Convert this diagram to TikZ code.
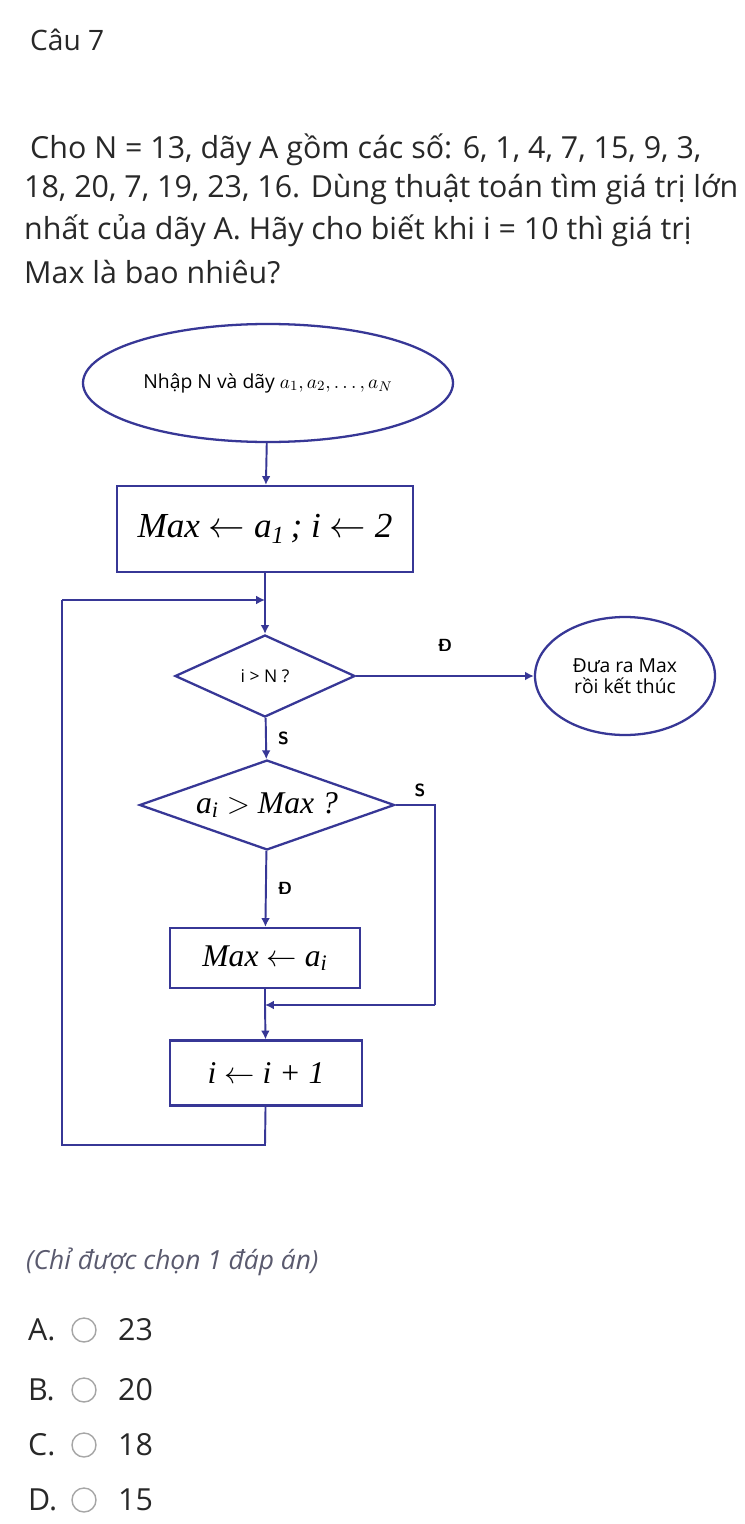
\documentclass[tikz,border=0pt]{standalone}
\usepackage{fontspec}
\setmainfont{Open Sans}
\newfontfamily\timesf{Liberation Serif}
\usetikzlibrary{shapes.geometric,positioning,arrows.meta}
\definecolor{flow}{RGB}{55,55,150}
\definecolor{qtext}{RGB}{40,40,40}
\definecolor{note}{RGB}{90,90,110}
\tikzset{
  flowline/.style={draw=flow, line width=1.1pt},
  flowarrow/.style={flowline, -{Latex[length=5pt,width=5pt]}},
  startstop/.style={ellipse, draw=flow, line width=1.3pt, inner sep=0pt},
  procbox/.style={rectangle, draw=flow, line width=1.3pt, inner sep=0pt},
  decide/.style={diamond, draw=flow, line width=1.3pt, inner sep=0pt, aspect=2.2},
  qline/.style={anchor=west, text=qtext, font=\fontsize{17.3}{20}\selectfont},
  lbl/.style={font=\sffamily\bfseries\fontsize{10}{12}\selectfont, text=black}
}
\begin{document}
\begin{tikzpicture}[x=0.02cm,y=-0.02cm]
  \useasboundingbox[fill=white] (0,0) rectangle (744,1524);
  % heading and question
  \node[qline, font=\fontsize{16}{20}\selectfont] (title) at (24,40) {Câu 7};
  \node[qline] (q1) at (24,150) {Cho N = 13, dãy A gồm các số: 6, 1, 4, 7, 15, 9, 3,};
  \node[qline] (q2) at (18,190) {18, 20, 7, 19, 23, 16. Dùng thuật toán tìm giá trị lớn};
  \node[qline] (q3) at (18,231) {nhất của dãy A. Hãy cho biết khi i = 10 thì giá trị};
  \node[qline] (q4) at (18,272) {Max là bao nhiêu?};
  % flowchart
  \node[startstop, minimum width=370*0.02cm, minimum height=118*0.02cm] (input) at (268,383)
    {\fontsize{11}{13}\selectfont Nhập N và dãy $a_1, a_2, \dots, a_N$};
  \node[procbox, minimum width=296*0.02cm, minimum height=86*0.02cm] (init) at (265,529)
    {\timesf\itshape\fontsize{20}{24}\selectfont Max $\leftarrow$ a\textsubscript{1}\,; i $\leftarrow$ 2};
  \coordinate (join1) at (265,600);
  \node[decide, minimum width=180*0.02cm, minimum height=82*0.02cm] (test1) at (265,676)
    {\fontsize{10}{12}\selectfont i > N ?};
  \node[startstop, minimum width=180*0.02cm, minimum height=118*0.02cm] (output) at (625,676)
    {\fontsize{11}{13}\selectfont\shortstack{Đưa ra Max\\rồi kết thúc}};
  \node[decide, minimum width=255*0.02cm, minimum height=80*0.02cm] (test2) at (267,805)
    {\timesf\itshape\fontsize{18}{22}\selectfont a\textsubscript{i} $>$ Max ?};
  \node[procbox, minimum width=190*0.02cm, minimum height=60*0.02cm] (update) at (265,958)
    {\timesf\itshape\fontsize{18}{22}\selectfont Max $\leftarrow$ a\textsubscript{i}};
  \coordinate (join2) at (265,1005);
  \node[procbox, minimum width=192*0.02cm, minimum height=65*0.02cm] (step) at (266,1073)
    {\timesf\itshape\fontsize{18}{22}\selectfont i $\leftarrow$ i + 1};
  \coordinate (right2) at (435,820);
  \coordinate (low) at (265,1145);
  \coordinate (lowleft) at (62,1145);
  \coordinate (upleft) at (62,600);
  \draw[flowarrow] (input) -- (init);
  \draw[flowline] (init) -- (join1);
  \draw[flowarrow] (join1) -- (test1);
  \draw[flowarrow] (test1) -- node[lbl, above=10pt] {Đ} (output);
  \draw[flowarrow] (test1) -- node[lbl, right=3pt] {S} (test2);
  \draw[flowarrow] (test2) -- node[lbl, right=3pt] {Đ} (update);
  \draw[flowline] (test2.east) -- (right2 |- test2.east) -- (right2) -- (435,1005);
  \node[lbl] (slabel) at (420,790) {S};
  \draw[flowarrow] (435,1005) -- (join2);
  \draw[flowline] (update) -- (join2);
  \draw[flowarrow] (join2) -- (step);
  \draw[flowline] (step) -- (low) -- (lowleft) -- (upleft);
  \draw[flowarrow] (upleft) -- (join1);
  % answers
  \node[qline, text=note, font=\itshape\fontsize{15}{20}\selectfont] (hint) at (20,1262) {(Chỉ được chọn 1 đáp án)};
  \foreach \y/\l/\v in {1330/A/23, 1390/B/20, 1445/C/18, 1500/D/15} {
    \node[qline] (opt\l) at (22,\y) {\l.};
    \draw[gray!70, line width=0.8pt] (84,\y) circle (12);
    \node[qline] (val\l) at (112,\y) {\v};
  }
\end{tikzpicture}
\end{document}
